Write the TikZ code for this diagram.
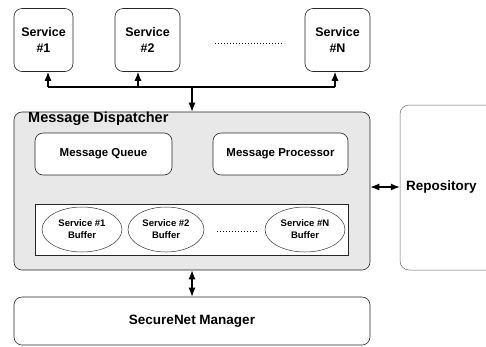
\documentclass[tikz,border=0pt]{standalone}
\usepackage{fontspec}
\setmainfont{Liberation Sans}
\usetikzlibrary{arrows.meta,shapes.geometric}
\begin{document}
\begin{tikzpicture}[x=1pt,y=-1pt,
  box/.style={draw=black!85,line width=0.6pt,rounded corners=8pt},
  svc/.style={box,fill=white,minimum width=59pt,minimum height=63pt,inner sep=0pt,align=center,font=\bfseries\fontsize{12.5}{16}\selectfont},
  inbox/.style={box,fill=white,font=\bfseries\fontsize{11.5}{14}\selectfont},
  buf/.style={ellipse,draw=black!80,line width=0.5pt,fill=white,inner sep=0pt,align=center,font=\bfseries\fontsize{9.5}{12}\selectfont},
  con/.style={line width=1.1pt},
  tip/.style={-{Latex[length=9pt,width=7pt]}},
  dtip/.style={{Latex[length=9pt,width=7pt]}-{Latex[length=9pt,width=7pt]}},
  dots/.style={line width=0.8pt,dash pattern=on 1pt off 2pt}]
\useasboundingbox (0,0) rectangle (486,346);
% services
\node[svc] (s1) at (43.5,40) {Service\\\#1};
\node[svc,minimum width=65pt] (s2) at (147.5,40) {Service\\\#2};
\node[svc,minimum width=65pt] (sn) at (337.5,40) {Service\\\#N};
\coordinate (d1a) at (215,43);
\coordinate (d1b) at (284,43);
\draw[dots] (d1a) -- (d1b);
% dispatcher
\node[box,fill=black!9,minimum width=356pt,minimum height=158pt,inner sep=0pt] (disp) at (192,191) {};
\node[anchor=west,font=\bfseries\fontsize{14.5}{16}\selectfont,inner sep=0pt] (dtitle) at (28,119) {Message Dispatcher};
\node[inbox,minimum width=137pt,minimum height=42pt] (mq) at (103.5,154) {Message Queue};
\node[inbox,minimum width=135pt,minimum height=42pt] (mp) at (280.5,154) {Message Processor};
\node[draw=black!85,line width=0.7pt,fill=white,minimum width=313pt,minimum height=51pt,inner sep=0pt] (bufbox) at (191.5,229.5) {};
\node[buf,minimum width=80pt,minimum height=45pt] (b1) at (82,229.5) {Service \#1\\Buffer};
\node[buf,minimum width=76pt,minimum height=45pt] (b2) at (166,229.5) {Service \#2\\Buffer};
\node[buf,minimum width=80pt,minimum height=45pt] (bn) at (305,229.5) {Service \#N\\Buffer};
\coordinate (d2a) at (217,231);
\coordinate (d2b) at (257,231);
\draw[dots] (d2a) -- (d2b);
% repository
\node[draw=black!60,line width=0.5pt,rounded corners=9pt,minimum width=110pt,minimum height=165pt,inner sep=0pt] (repo) at (455,187.5) {};
\node[anchor=west,font=\bfseries\fontsize{13.5}{16}\selectfont,inner sep=0pt] (repot) at (406,187) {Repository};
% securenet
\node[box,minimum width=356pt,minimum height=48pt,font=\bfseries\fontsize{13.5}{16}\selectfont] (snm) at (192,321) {SecureNet Manager};
% connectors
\coordinate (busl) at (48,87);
\coordinate (busr) at (335,87);
\coordinate (busm) at (192,87);
\coordinate (bus2) at (138,87);
\draw[con] (busl) -- (busr);
\draw[con,tip] (busl) -- (busl |- s1.south);
\draw[con,tip] (bus2) -- (bus2 |- s2.south);
\draw[con,tip] (busr) -- (busr |- sn.south);
\draw[con,tip] (busm) -- (busm |- disp.north);
\draw[con,dtip] (disp.south) -- (snm.north);
\draw[con,dtip] (disp.east |- repot.west) -- (repo.west |- repot.west);
\end{tikzpicture}
\end{document}
